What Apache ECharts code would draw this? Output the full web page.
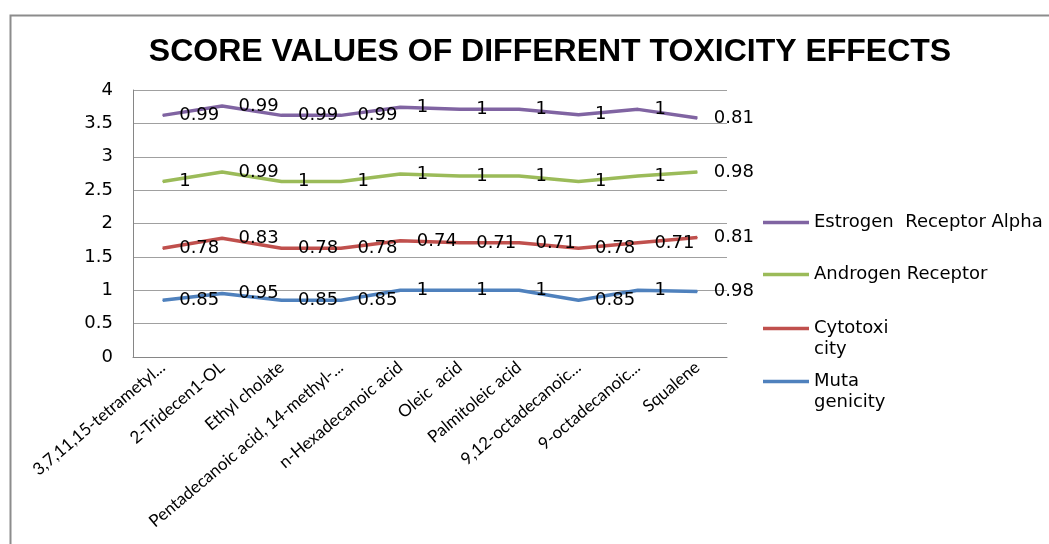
<!DOCTYPE html>
<html>
<head>
<meta charset="utf-8">
<script src="https://cdn.jsdelivr.net/npm/echarts@6/dist/echarts.min.js"></script>
<style>html,body{margin:0;padding:0;background:#fff}#c{width:1049px;height:544px}</style>
</head>
<body>
<div id="c"></div>
<script>
var categories = ["3,7,11,15-tetrametyl...", "2-Tridecen1-OL", "Ethyl cholate", "Pentadecanoic acid, 14-methyl-...", "n-Hexadecanoic acid", "Oleic  acid", "Palmitoleic acid", "9,12-octadecanoic...", "9-octadecanoic...", "Squalene"];
var mutagenicity = [0.85, 0.95, 0.85, 0.85, 1, 1, 1, 0.85, 1, 0.98];
var cytotoxicity = [0.78, 0.83, 0.78, 0.78, 0.74, 0.71, 0.71, 0.78, 0.71, 0.81];
var androgen = [1, 0.99, 1, 1, 1, 1, 1, 1, 1, 0.98];
var estrogen = [0.99, 0.99, 0.99, 0.99, 1, 1, 1, 1, 1, 0.81];
var yTicks = [0, 0.5, 1, 1.5, 2, 2.5, 3, 3.5, 4];
var seriesNames = ["Muta genicity", "Cytotoxicity", "Androgen Receptor", "Estrogen  Receptor Alpha"];
var legendText = {
  "Muta genicity": "\nMuta\ngenicity",
  "Cytotoxicity": "\nCytotoxi\ncity",
  "Androgen Receptor": "Androgen Receptor",
  "Estrogen  Receptor Alpha": "Estrogen  Receptor Alpha"
};
var colors = ["#4F81BD", "#C0504D", "#9BBB59", "#8064A2"];
var values = [mutagenicity, cytotoxicity, androgen, estrogen];

var chart = echarts.init(document.getElementById('c'), null, {renderer: 'canvas'});
function mkSeries(i) {
  return {
    name: seriesNames[i],
    type: 'line',
    stack: 'total',
    data: values[i],
    symbol: 'circle',
    symbolSize: 1,
    showSymbol: true,
    lineStyle: {color: colors[i], width: 3.5},
    itemStyle: {color: colors[i]},
    label: {show: true, position: 'right', distance: 16, color: '#000', fontFamily: 'DejaVu Sans', fontSize: 18},
    emphasis: {disabled: true},
    animation: false
  };
}
function mkLegend(name, top) {
  return {
    data: [name], orient: 'vertical', left: 758, top: top,
    icon: 'rect', itemWidth: 46, itemHeight: 3.5,
    formatter: function (n) { return legendText[n]; },
    textStyle: {fontFamily: 'DejaVu Sans', fontSize: 18, color: '#000', lineHeight: 21},
    selectedMode: false
  };
}
chart.setOption({
  backgroundColor: '#fff',
  animation: false,
  title: {
    text: 'SCORE VALUES OF DIFFERENT TOXICITY EFFECTS',
    left: 545, top: 31, textAlign: 'center',
    textStyle: {fontFamily: 'Liberation Sans', fontWeight: 'bold', fontSize: 32, color: '#000'}
  },
  graphic: [{type: 'rect', shape: {x: 10.5, y: 15.5, width: 1100, height: 600}, style: {fill: 'none', stroke: '#8c8c8c', lineWidth: 2}, silent: true}],
  legend: [
    mkLegend(seriesNames[3], 207),
    mkLegend(seriesNames[2], 259),
    mkLegend(seriesNames[1], 292),
    mkLegend(seriesNames[0], 345)
  ],
  grid: {left: 133, right: 322, top: 90, bottom: 187, containLabel: false},
  xAxis: {
    type: 'category', data: categories, boundaryGap: true,
    axisLine: {lineStyle: {color: '#868686', width: 1}},
    axisTick: {show: false},
    axisLabel: {interval: 0, rotate: 40, margin: 8, fontFamily: 'Lato', fontSize: 17, color: '#000'}
  },
  yAxis: {
    type: 'value', min: 0, max: 4, interval: 0.5,
    axisLine: {show: true, lineStyle: {color: '#868686'}},
    axisTick: {show: false},
    splitLine: {lineStyle: {color: '#a0a0a0'}},
    axisLabel: {margin: 20, fontFamily: 'DejaVu Sans', fontSize: 18, color: '#000',
      formatter: function (v) { return yTicks.indexOf(v) >= 0 ? String(v) : ''; }}
  },
  series: [mkSeries(0), mkSeries(1), mkSeries(2), mkSeries(3)]
});
</script>
</body>
</html>
